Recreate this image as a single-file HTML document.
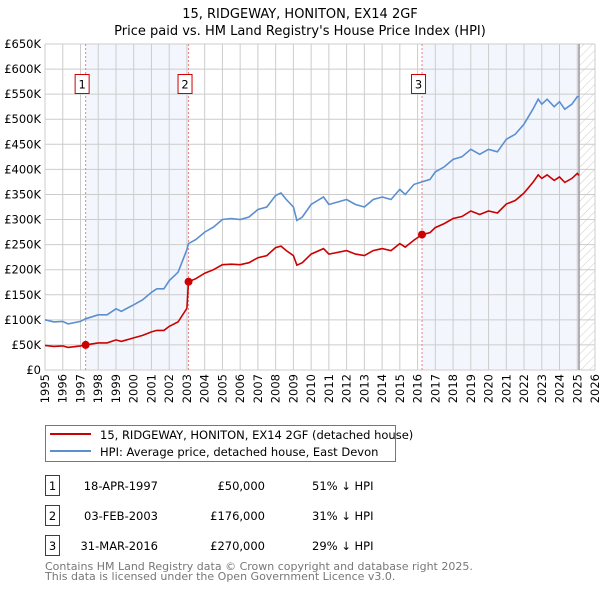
<!DOCTYPE html>
<html><head><meta charset="utf-8"><style>
body{margin:0;background:#fff;width:600px;height:590px;overflow:hidden}
svg text{font-family:"DejaVu Sans","Liberation Sans",sans-serif}
</style></head><body>
<svg id="c" width="600" height="590" xmlns="http://www.w3.org/2000/svg">
<defs><pattern id="hatch" width="6" height="6" patternUnits="userSpaceOnUse" patternTransform="rotate(45)"><line x1="0" y1="0" x2="0" y2="6" stroke="#ccc" stroke-width="1"/></pattern></defs>
<text x="300" y="18" text-anchor="middle" font-size="13">15, RIDGEWAY, HONITON, EX14 2GF</text>
<text x="300" y="35" text-anchor="middle" font-size="13">Price paid vs. HM Land Registry's House Price Index (HPI)</text>
<g id="plot"></g>
<g>
<rect x="45.5" y="425.5" width="350" height="36" fill="#fff" stroke="#777"/>
<line x1="50" y1="434" x2="91" y2="434" stroke="#cc0000" stroke-width="2"/>
<text x="100" y="439" font-size="11.5">15, RIDGEWAY, HONITON, EX14 2GF (detached house)</text>
<line x1="50" y1="451" x2="91" y2="451" stroke="#5b8fd0" stroke-width="2"/>
<text x="100" y="456" font-size="11.5">HPI: Average price, detached house, East Devon</text>
</g>
<g font-size="11.5">
<rect x="45.5" y="475.5" width="14" height="20" fill="none" stroke="#cc0000"/><text x="52.5" y="490" text-anchor="middle">1</text>
<text x="158" y="490" text-anchor="end">18-APR-1997</text><text x="265" y="490" text-anchor="end">£50,000</text><text x="312" y="490">51% ↓ HPI</text>
<rect x="45.5" y="505.5" width="14" height="20" fill="none" stroke="#cc0000"/><text x="52.5" y="520" text-anchor="middle">2</text>
<text x="158" y="520" text-anchor="end">03-FEB-2003</text><text x="265" y="520" text-anchor="end">£176,000</text><text x="312" y="520">31% ↓ HPI</text>
<rect x="45.5" y="535.5" width="14" height="20" fill="none" stroke="#cc0000"/><text x="52.5" y="550" text-anchor="middle">3</text>
<text x="158" y="550" text-anchor="end">31-MAR-2016</text><text x="265" y="550" text-anchor="end">£270,000</text><text x="312" y="550">29% ↓ HPI</text>
</g>
<text x="45" y="570" font-size="11" fill="#777">Contains HM Land Registry data © Crown copyright and database right 2025.</text>
<text x="45" y="580" font-size="11" fill="#777">This data is licensed under the Open Government Licence v3.0.</text>
</svg>
<script>
const years=[1995,1995.5,1996,1996.3,1997,1997.29,1998,1998.5,1999,1999.3,2000,2000.5,2001,2001.3,2001.7,2002,2002.5,2003,2003.09,2003.5,2004,2004.5,2005,2005.5,2006,2006.5,2007,2007.5,2008,2008.3,2008.6,2009,2009.2,2009.5,2010,2010.7,2011,2012,2012.5,2013,2013.5,2014,2014.5,2015,2015.3,2015.8,2016.25,2016.7,2017,2017.5,2018,2018.5,2019,2019.5,2020,2020.5,2021,2021.5,2022,2022.5,2022.8,2023,2023.3,2023.7,2024,2024.3,2024.7,2025,2025.1];
const hpi=[100,96,97,92,97,102,110,110,122,117,130,140,155,162,162,178,195,240,252,260,275,285,300,302,300,305,320,325,348,353,340,325,298,305,330,345,330,340,330,325,340,345,340,360,350,370,375,380,395,405,420,425,440,430,440,435,460,470,490,520,540,530,540,525,535,520,530,545,545];
const price=[49,47,48,45,48,50,54,54,60,57,64,69,76,79,79,87,96,123,176,182,193,200,210,211,210,214,224,228,244,247,238,228,209,214,231,242,231,238,231,228,238,242,238,252,245,259,270,274,284,292,302,306,317,310,317,313,331,338,353,374,389,382,389,378,385,374,382,392,388];
const saleYears=[1997.29,2003.09,2016.25];
const salePrices=[50,176,270];
const saleLabels=["1","2","3"];
const yTicks=[0,50,100,150,200,250,300,350,400,450,500,550,600,650];
const yTickLabels=["£0","£50K","£100K","£150K","£200K","£250K","£300K","£350K","£400K","£450K","£500K","£550K","£600K","£650K"];
const xTicks=[1995,1996,1997,1998,1999,2000,2001,2002,2003,2004,2005,2006,2007,2008,2009,2010,2011,2012,2013,2014,2015,2016,2017,2018,2019,2020,2021,2022,2023,2024,2025,2026];
const dataEnd=2025.1;
const L=45,R=595,T=44,B=370;
const x=v=>L+(v-1995)/(2026-1995)*(R-L);
const y=v=>B-v/650*(B-T);
const NS="http://www.w3.org/2000/svg";
const g=document.getElementById('plot');
function mk(tag,attrs,parent){const e=document.createElementNS(NS,tag);for(const k in attrs)e.setAttribute(k,attrs[k]);(parent||g).appendChild(e);return e;}
let e;
e=mk('rect',{x:x(saleYears[0]),y:T,width:x(saleYears[1])-x(saleYears[0]),height:B-T,fill:'#eef3fc',opacity:0.7});


e=mk('rect',{x:x(saleYears[2]),y:T,width:x(dataEnd)-x(saleYears[2]),height:B-T,fill:'#eef3fc',opacity:0.7});


e=mk('rect',{x:x(dataEnd),y:T,width:R-x(dataEnd),height:B-T,fill:'url(#hatch)'});


yTicks.forEach((t,i)=>{
 e=mk('line',{x1:L,x2:R,y1:y(t),y2:y(t),stroke:'#ccc'});
 
 
 e=mk('text',{x:41,y:y(t)+4,'text-anchor':'end','font-size':'11.5'});e.textContent=yTickLabels[i];
 
 
});
xTicks.forEach(t=>{
 e=mk('line',{x1:x(t),x2:x(t),y1:T,y2:B,stroke:'#ccc'});
 
 
 e=mk('text',{x:0,y:0,'text-anchor':'end','font-size':'11.5',transform:`translate(${x(t)+4},${B+4}) rotate(-90)`});e.textContent=t;
 
 
});
e=mk('line',{x1:x(dataEnd),x2:x(dataEnd),y1:T,y2:B,stroke:'#999','stroke-width':1.5});


saleYears.forEach((s,i)=>{
 e=mk('line',{x1:x(s),x2:x(s),y1:T,y2:B,stroke:'#f08080','stroke-dasharray':'2,2'});
 
 
 e=mk('rect',{x:x(s)-10.5,y:74.5,width:14,height:19,fill:'#fff',stroke:'#cc0000'});
 
 
 e=mk('text',{x:x(s)-3.5,y:88.5,'text-anchor':'middle','font-size':'11.5'});e.textContent=saleLabels[i];
 
 
});
const pts=a=>a.map((v,i)=>x(years[i]).toFixed(1)+','+y(v).toFixed(1)).join(' ');
e=mk('polyline',{points:pts(hpi),fill:'none',stroke:'#5b8fd0','stroke-width':1.6});


e=mk('polyline',{points:pts(price),fill:'none',stroke:'#cc0000','stroke-width':1.6});


saleYears.forEach((s,i)=>{
 e=mk('circle',{cx:x(s),cy:y(salePrices[i]),r:4,fill:'#cc0000'});
 
 
});
</script>
</body></html>
